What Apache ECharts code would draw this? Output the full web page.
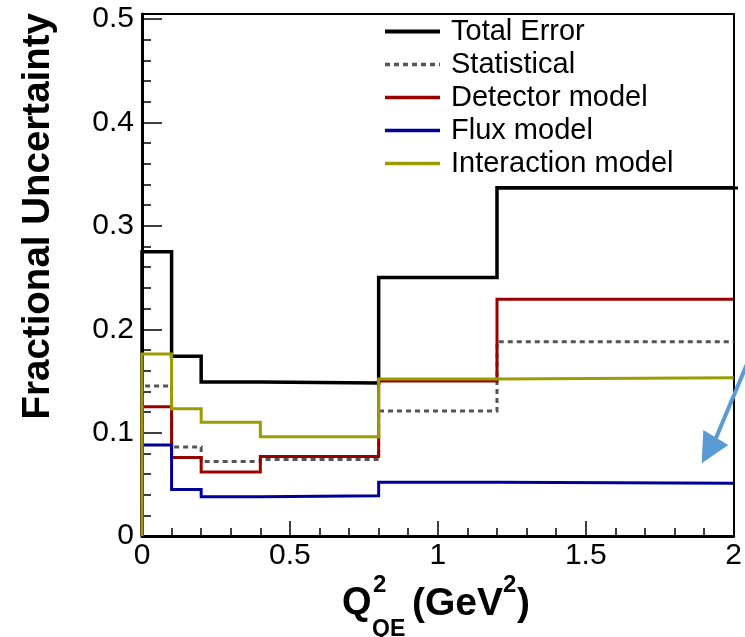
<!DOCTYPE html>
<html>
<head>
<meta charset="utf-8">
<script src="https://cdn.jsdelivr.net/npm/echarts@6/dist/echarts.min.js"></script>
<style>
  html, body { margin: 0; padding: 0; background: #fff; }
  #chart { width: 745px; height: 637px; }
</style>
</head>
<body>
<div id="chart"></div>
<script>
// Q^2 bin edges (GeV^2) and fractional uncertainty per bin
const binEdges = [0, 0.1, 0.2, 0.4, 0.8, 1.2, 2.0];
const totalError       = [0.275, 0.174, 0.149, 0.148, 0.250, 0.337];
const statistical      = [0.145, 0.086, 0.072, 0.074, 0.121, 0.188];
const detectorModel    = [0.125, 0.076, 0.062, 0.077, 0.150, 0.229];
const fluxModel        = [0.088, 0.045, 0.038, 0.039, 0.052, 0.051];
const interactionModel = [0.176, 0.123, 0.110, 0.096, 0.152, 0.153];

const seriesNames = ['Total Error', 'Statistical', 'Detector model', 'Flux model', 'Interaction model'];
const xTickValues = [0, 0.5, 1, 1.5, 2];
const yTickValues = [0, 0.1, 0.2, 0.3, 0.4, 0.5];

const FONT = '"Liberation Sans", Arial, Helvetica, sans-serif';

// histogram outline: rises from zero at the first edge, then one step per bin
function histPoints(vals) {
  const pts = [[binEdges[0], 0]];
  vals.forEach((v, i) => pts.push([binEdges[i], v]));
  pts.push([binEdges[binEdges.length - 1], vals[vals.length - 1]]);
  return pts;
}

const styles = [
  { color: '#000000', width: 3.5, type: 'solid' },
  { color: '#555555', width: 3, type: [5, 4] },
  { color: '#990000', width: 3, type: 'solid' },
  { color: '#000099', width: 3, type: 'solid' },
  { color: '#9c9c00', width: 3, type: 'solid' }
];
const values = [totalError, statistical, detectorModel, fluxModel, interactionModel];

const series = seriesNames.map((name, i) => ({
  name,
  type: 'line',
  step: 'end',
  symbol: 'none',
  clip: false,
  animation: false,
  data: histPoints(values[i]),
  lineStyle: { color: styles[i].color, width: styles[i].width, type: styles[i].type, cap: 'butt', join: 'miter' },
  itemStyle: { color: styles[i].color }
}));

const chart = echarts.init(document.getElementById('chart'), null, { renderer: 'canvas' });

const tickFmt = list => v => (list.some(t => Math.abs(t - v) < 1e-9) ? String(v) : '');

const textPiece = (x, y, text, size) => ({
  type: 'text', x, y, z: 10,
  style: { text, font: 'bold ' + size + 'px ' + FONT, fill: '#000',
           align: 'left', verticalAlign: 'middle', textAlign: 'left', textVerticalAlign: 'middle' }
});

chart.setOption({
  animation: false,
  grid: { left: 142, right: 7, top: 14, bottom: 101 },
  legend: {
    orient: 'vertical',
    left: 383,
    top: 15,
    padding: 0,
    itemGap: 0,
    itemWidth: 55,
    itemHeight: 14,
    selectedMode: false,
    itemStyle: { opacity: 0 },
    textStyle: { fontFamily: FONT, fontSize: 29, color: '#000', lineHeight: 33, padding: [0, 0, 0, 6] },
    data: seriesNames.map((name, i) => ({
      name,
      itemStyle: { opacity: 0 },
      lineStyle: { width: i === 0 ? 4 : 3.3, type: styles[i].type, color: styles[i].color }
    }))
  },
  xAxis: [
    {
      type: 'value', min: 0, max: 2, interval: 0.5, position: 'bottom',
      axisLine: { show: true, onZero: false, lineStyle: { color: '#000', width: 3 } },
      axisTick: { show: true, inside: true, length: 15, lineStyle: { color: '#000', width: 1.5 } },
      minorTick: { show: true, splitNumber: 5, length: 8, lineStyle: { color: '#000', width: 1.5 } },
      axisLabel: { fontFamily: FONT, fontSize: 30, color: '#000', margin: 5, formatter: tickFmt(xTickValues) },
      splitLine: { show: false }
    },
    {
      // top frame edge
      type: 'value', min: 0, max: 2, position: 'top',
      axisLine: { show: true, onZero: false, lineStyle: { color: '#000', width: 2 } },
      axisTick: { show: false }, axisLabel: { show: false }, splitLine: { show: false }
    }
  ],
  yAxis: [
    {
      type: 'value', min: 0, max: 0.505, interval: 0.1, position: 'left',
      axisLine: { show: true, onZero: false, lineStyle: { color: '#000', width: 3 } },
      axisTick: { show: true, inside: true, length: 20, lineStyle: { color: '#000', width: 1.5 } },
      axisLabel: { fontFamily: FONT, fontSize: 30, color: '#000', margin: 8, showMaxLabel: false, formatter: tickFmt(yTickValues) },
      splitLine: { show: false }
    },
    {
      // minor ticks every 0.02
      type: 'value', min: 0, max: 0.505, interval: 0.02, position: 'left',
      axisLine: { show: false },
      axisTick: { show: true, inside: true, length: 9, lineStyle: { color: '#000', width: 1.5 } },
      axisLabel: { show: false }, splitLine: { show: false }
    },
    {
      // right frame edge
      type: 'value', min: 0, max: 0.505, position: 'right',
      axisLine: { show: true, onZero: false, lineStyle: { color: '#000', width: 2 } },
      axisTick: { show: false }, axisLabel: { show: false }, splitLine: { show: false }
    }
  ],
  series,
  graphic: [
    // legend box shadow edge
    { type: 'line', z: 10, shape: { x1: 498, y1: 188, x2: 738, y2: 188 }, style: { stroke: '#000', lineWidth: 3 } },
    // y axis title
    {
      type: 'text', x: 38, y: 13, rotation: Math.PI / 2, z: 10,
      style: { text: 'Fractional Uncertainty', font: 'bold 38.5px ' + FONT, fill: '#000',
               align: 'right', verticalAlign: 'middle', textAlign: 'right', textVerticalAlign: 'middle' }
    },
    // x axis title: Q^2_QE (GeV^2)
    textPiece(342, 604, 'Q', 38),
    textPiece(373, 585, '2', 24),
    textPiece(372, 630, 'QE', 23),
    textPiece(412, 604, '(GeV', 39),
    textPiece(503, 585, '2', 24),
    textPiece(517, 604, ')', 39),
    // pointer arrow
    { type: 'line', z: 20, shape: { x1: 752, y1: 352, x2: 716, y2: 438 }, style: { stroke: '#5b9bd5', lineWidth: 4 } },
    { type: 'polygon', z: 20, shape: { points: [[701.7, 463.3], [728.3, 445], [703.3, 430]] }, style: { fill: '#5b9bd5' } }
  ]
});
</script>
</body>
</html>
